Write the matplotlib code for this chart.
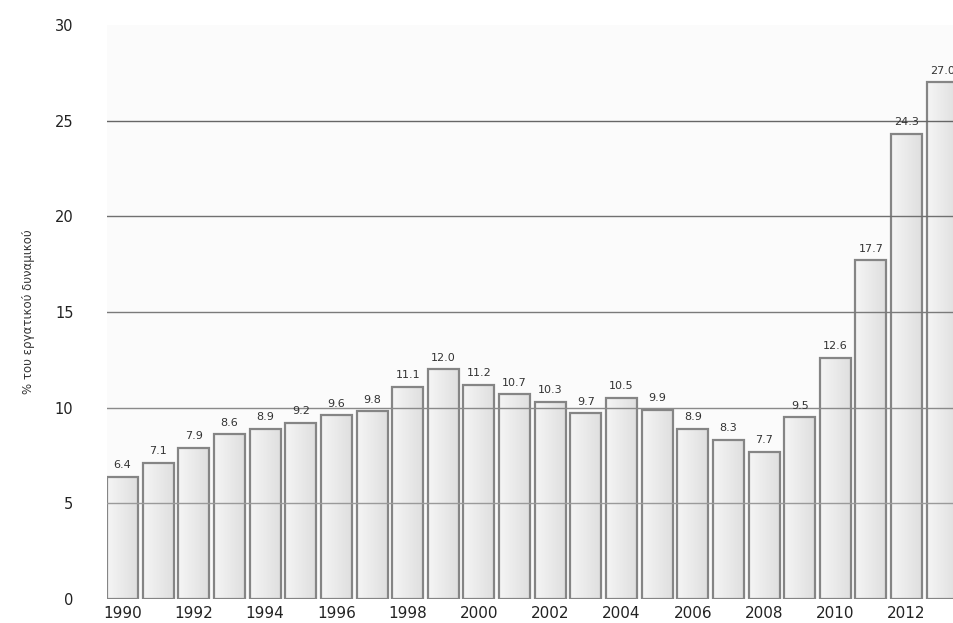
import numpy as np
import matplotlib.pyplot as plt

# unemployment, % of labour force
years = list(range(1990, 2014))
values = [6.4, 7.1, 7.9, 8.6, 8.9, 9.2, 9.6, 9.8, 11.1, 12.0, 11.2, 10.7,
          10.3, 9.7, 10.5, 9.9, 8.9, 8.3, 7.7, 9.5, 12.6, 17.7, 24.3, 27.0]
tick_years = years[::2]
y_ticks = [0, 5, 10, 15, 20, 25, 30]
y_label = "% του εργατικού δυναμικού"


def main():
    fig = plt.figure(figsize=(9.54, 6.23), dpi=100)
    ax = fig.add_axes([0.112, 0.0385, 0.888, 0.9215])

    x = np.arange(len(years))
    bars = ax.bar(x, values, width=0.87, color="#ebebeb",
                  edgecolor="none", zorder=2)

    # faint horizontal shading inside each bar
    grad = np.linspace(0.96, 0.87, 64).reshape(1, -1)
    for b in bars:
        x0, w, h = b.get_x(), b.get_width(), b.get_height()
        im = ax.imshow(grad, cmap="gray", vmin=0, vmax=1, aspect="auto",
                       extent=(x0, x0 + w, 0, h), zorder=2.1)
        im.set_clip_path(b)

    # outlines on top of the shading
    ax.bar(x, values, width=0.87, fill=False, edgecolor="#858585",
           linewidth=1.6, zorder=2.5)

    # grid lines sit over the bars
    grid_cols = {5: "#9a9a9a", 10: "#8a8a8a", 15: "#7a7a7a",
                 20: "#707070", 25: "#666666"}
    for yv in y_ticks[1:-1]:
        ax.axhline(yv, color=grid_cols[yv], lw=1.0, zorder=3)

    for xi, v in zip(x, values):
        ax.text(xi, v + 0.35, f"{v:.1f}", ha="center", va="bottom",
                fontsize=8, color="#333333", zorder=4)

    ax.set_xlim(-0.44, 23.33)
    ax.set_ylim(0, 30)
    ax.set_xticks([years.index(t) for t in tick_years])
    ax.set_xticklabels([str(t) for t in tick_years], fontsize=11,
                       color="#222222")
    ax.set_yticks(y_ticks)
    ax.set_yticklabels([str(t) for t in y_ticks], fontsize=10.5,
                       color="#222222")
    ax.tick_params(length=0, pad=24, axis="y")
    ax.tick_params(length=0, pad=5, axis="x")
    ax.set_facecolor("#fbfbfb")
    for s in ax.spines.values():
        s.set_visible(False)

    ax.set_ylabel(y_label, fontsize=8.5, color="#333333", labelpad=14)

    fig.savefig("out.png", dpi=100)
    plt.close(fig)


if __name__ == "__main__":
    main()
